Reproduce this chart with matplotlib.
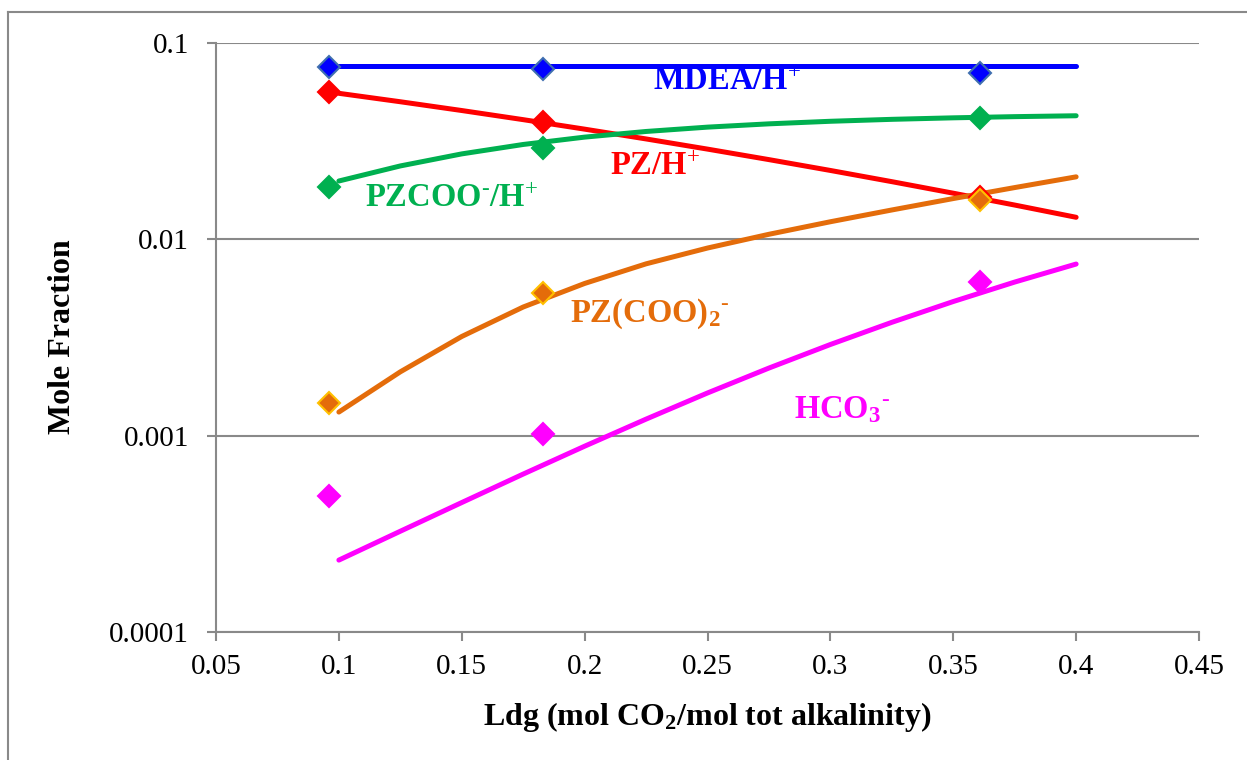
import matplotlib
matplotlib.use("Agg")
import matplotlib.pyplot as plt
from matplotlib.lines import Line2D

plt.rcParams['font.family'] = ['Liberation Serif', 'DejaVu Serif']
plt.rcParams['mathtext.fontset'] = 'custom'
plt.rcParams['mathtext.rm'] = 'Liberation Serif'
plt.rcParams['mathtext.bf'] = 'Liberation Serif:bold'
plt.rcParams['mathtext.it'] = 'Liberation Serif:italic'

# measured points (loading, mole fraction)
ldg_exp = [0.096, 0.183, 0.361]
mdea_exp = [0.0752, 0.0735, 0.0706]
pz_exp = [0.0563, 0.0396, 0.0164]
pzcoo_exp = [0.01854, 0.02908, 0.04164]
pzcoo2_exp = [0.001471, 0.005307, 0.01585]
hco3_exp = [0.000492, 0.001019, 0.006081]

# model curves
ldg_mod = [0.100, 0.125, 0.150, 0.175, 0.200, 0.225, 0.250,
           0.275, 0.300, 0.325, 0.350, 0.375, 0.400]
mdea_mod = [0.0766] * 13
pz_mod = [0.05543, 0.05021, 0.04530, 0.04070, 0.03641, 0.03246, 0.02881,
          0.02547, 0.02243, 0.01967, 0.01718, 0.01495, 0.01295]
pzcoo_mod = [0.01982, 0.02365, 0.02724, 0.03042, 0.03316, 0.03543, 0.03728,
             0.03875, 0.03993, 0.04085, 0.04158, 0.04216, 0.04260]
pzcoo2_mod = [0.001319, 0.002114, 0.003200, 0.004521, 0.005960, 0.007502,
              0.009030, 0.01061, 0.01229, 0.01411, 0.01613, 0.01835,
              0.02081]
hco3_mod = [0.0002324, 0.0003260, 0.0004564, 0.0006373, 0.0008837, 0.001214,
            0.001650, 0.002210, 0.002913, 0.003778, 0.004822, 0.006058,
            0.007484]

x_ticks = [0.05, 0.1, 0.15, 0.2, 0.25, 0.3, 0.35, 0.4, 0.45]
x_labels = ['0.05', '0.1', '0.15', '0.2', '0.25', '0.3', '0.35', '0.4', '0.45']
y_ticks = [0.0001, 0.001, 0.01, 0.1]
y_labels = ['0.0001', '0.001', '0.01', '0.1']

grey = '#898989'

fig = plt.figure(figsize=(12.47, 7.60), dpi=100)
W, H = 1247, 760
ax = fig.add_axes([216 / W, 1 - 632 / H, (1199 - 216) / W, (632 - 43) / H])

series = [
    (mdea_mod, mdea_exp, '#0000FF', '#0000FF', '#3F6FB0'),
    (pz_mod, pz_exp, '#FF0000', '#FF0000', '#FF0000'),
    (pzcoo_mod, pzcoo_exp, '#00B050', '#00B050', '#00B050'),
    (pzcoo2_mod, pzcoo2_exp, '#E46C0A', '#E46C0A', '#FFC000'),
    (hco3_mod, hco3_exp, '#FF00FF', '#FF00FF', '#FF00FF'),
]
for mod, exp, lc, fc, ec in series:
    ax.plot(ldg_mod, mod, color=lc, lw=3.6, solid_capstyle='round',
            solid_joinstyle='round', zorder=3)
for mod, exp, lc, fc, ec in series:
    ax.plot(ldg_exp, exp, ls='none', marker='D', ms=11.5, mfc=fc, mec=ec,
            mew=1.5, zorder=4)

ax.set_yscale('log')
ax.set_xlim(0.05, 0.45)
ax.set_ylim(0.0001, 0.1)
ax.set_xticks(x_ticks)
ax.set_xticklabels(x_labels)
ax.set_yticks(y_ticks)
ax.set_yticklabels(y_labels)
ax.minorticks_off()
ax.tick_params(axis='both', direction='out', length=6.5, width=1.5,
               color=grey, labelsize=21)
ax.tick_params(axis='x', pad=9)
ax.tick_params(axis='y', pad=13)
ax.grid(axis='y', color=grey, lw=1.5, zorder=1)
ax.set_axisbelow(True)
for s in ['top', 'right']:
    ax.spines[s].set_visible(False)
for s in ['left', 'bottom']:
    ax.spines[s].set_color(grey)
    ax.spines[s].set_linewidth(1.5)

# curve labels
lab = dict(fontsize=23.5, fontweight='bold', ha='left', va='center')
ax.text(0.228, 0.0633, r'MDEA/H$^{+}$', color='#0000FF', **lab)
ax.text(0.2105, 0.0236, r'PZ/H$^{+}$', color='#FF0000', **lab)
ax.text(0.1105, 0.01623, r'PZCOO$^{\text{-}}$/H$^{+}$', color='#00B050', **lab)
ax.text(0.194, 0.00416, r'PZ(COO)$_{\mathbf{2}}$$^{\text{-}}$', color='#E46C0A', **lab)
ax.text(0.285, 0.00135, r'HCO$_{\mathbf{3}}$$^{\text{-}}$', color='#FF00FF', **lab)

fig.text(62 / W, 1 - 337 / H, 'Mole Fraction', rotation=90, ha='center',
         va='center', fontsize=23, fontweight='bold')
fig.text(707 / W, 1 - 717 / H, r'Ldg (mol CO$_{\mathbf{2}}$/mol tot alkalinity)',
         ha='center', va='center', fontsize=23, fontweight='bold')

# chart area border
fig.add_artist(Line2D([8 / W, 8 / W], [0, 1 - 12 / H], color=grey, lw=1.5))
fig.add_artist(Line2D([8 / W, 1], [1 - 12 / H, 1 - 12 / H], color=grey, lw=1.5))

fig.savefig('out.png', dpi=100)
